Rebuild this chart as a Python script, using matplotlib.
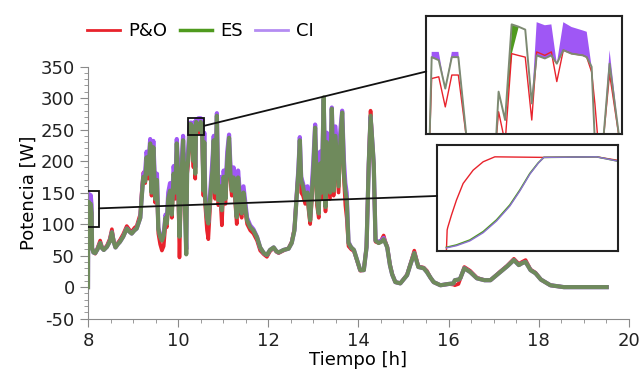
import matplotlib
matplotlib.use("Agg")
import matplotlib.pyplot as plt
import matplotlib.patches as patches
from matplotlib.lines import Line2D
from matplotlib.ticker import MultipleLocator

# ---- main series: time [h] and power [W] for the three MPPT methods ----
hours = [
    8.00, 8.005, 8.02, 8.04, 8.06, 8.08, 8.09, 8.12, 8.16, 8.21,
    8.27, 8.31, 8.35, 8.42, 8.48, 8.53, 8.57, 8.61, 8.66, 8.71,
    8.78, 8.86, 8.92, 8.97, 9.03, 9.08, 9.16, 9.20, 9.23, 9.27,
    9.30, 9.34, 9.38, 9.41, 9.45, 9.49, 9.53, 9.56, 9.60, 9.64,
    9.68, 9.72, 9.75, 9.78, 9.82, 9.86, 9.90, 9.94, 9.97, 10.00,
    10.03, 10.06, 10.09, 10.11, 10.14, 10.18, 10.20, 10.22, 10.25, 10.27,
    10.29, 10.31, 10.34, 10.36, 10.38, 10.40, 10.42, 10.45, 10.47, 10.50,
    10.53, 10.56, 10.58, 10.60, 10.64, 10.67, 10.72, 10.76, 10.79, 10.82,
    10.86, 10.89, 10.93, 10.97, 11.01, 11.05, 11.09, 11.13, 11.16, 11.19,
    11.23, 11.27, 11.30, 11.33, 11.37, 11.41, 11.45, 11.49, 11.53, 11.60,
    11.67, 11.75, 11.82, 11.90, 11.97, 12.04, 12.12, 12.18, 12.23, 12.34,
    12.45, 12.52, 12.58, 12.64, 12.67, 12.70, 12.73, 12.77, 12.82, 12.87,
    12.90, 12.93, 12.97, 13.00, 13.04, 13.08, 13.12, 13.15, 13.19, 13.23,
    13.27, 13.30, 13.33, 13.37, 13.41, 13.45, 13.49, 13.52, 13.56, 13.60,
    13.64, 13.68, 13.71, 13.74, 13.78, 13.84, 13.90, 13.97, 14.04, 14.12,
    14.18, 14.23, 14.27, 14.31, 14.34, 14.38, 14.45, 14.51, 14.56, 14.60,
    14.64, 14.70, 14.75, 14.82, 14.93, 15.08, 15.15, 15.24, 15.33, 15.45,
    15.52, 15.60, 15.67, 15.82, 16.00, 16.11, 16.14, 16.22, 16.26, 16.35,
    16.48, 16.63, 16.80, 16.93, 17.15, 17.30, 17.45, 17.56, 17.63, 17.71,
    17.82, 17.93, 18.05, 18.26, 18.56, 19.51,
]

es_w = [
    0, 128, 135, 126, 132, 118, 62, 55, 54, 60,
    70, 62, 59, 64, 72, 87, 72, 63, 68, 72,
    80, 93, 88, 85, 90, 93, 110, 150, 175, 168,
    206, 180, 228, 150, 222, 140, 170, 92, 80, 74,
    82, 110, 101, 140, 153, 115, 180, 150, 228, 170,
    80, 150, 200, 233, 153, 52, 190, 200, 240, 259,
    258, 235, 200, 255, 180, 262, 250, 258, 250, 262,
    258, 153, 230, 140, 110, 101, 150, 185, 233, 150,
    272, 138, 160, 122, 175, 140, 200, 237, 180, 153,
    174, 140, 111, 174, 140, 117, 150, 127, 106, 95,
    90, 79, 63, 54, 51, 59, 63, 57, 55, 59,
    61, 70, 90, 153, 185, 233, 170, 160, 140, 150,
    125, 106, 150, 185, 253, 140, 117, 196, 150, 301,
    127, 230, 196, 150, 283, 153, 240, 206, 160, 230,
    277, 180, 153, 140, 70, 63, 59, 43, 27, 27,
    63, 196, 272, 230, 196, 74, 70, 72, 76, 70,
    63, 35, 20, 8, 6, 19, 35, 54, 32, 30,
    24, 15, 8, 3, 5, 6, 11, 12, 14, 30,
    24, 14, 11, 11, 24, 33, 43, 35, 38, 40,
    27, 22, 12, 3, 0, 0,
]

po_w = [
    0, 125, 130, 124, 128, 115, 62, 57, 53, 62,
    74, 64, 60, 66, 76, 92, 74, 64, 70, 75,
    84, 97, 91, 88, 94, 97, 116, 160, 182, 165,
    200, 172, 220, 145, 215, 134, 160, 85, 68, 58,
    65, 100, 95, 132, 145, 110, 170, 140, 215, 160,
    47, 140, 188, 220, 145, 120, 180, 192, 232, 250,
    251, 225, 190, 245, 172, 254, 245, 254, 245, 258,
    255, 145, 220, 130, 90, 76, 140, 175, 225, 140,
    262, 130, 150, 98, 165, 132, 190, 228, 170, 145,
    165, 130, 100, 168, 120, 110, 142, 120, 100, 90,
    85, 74, 58, 52, 48, 57, 62, 56, 54, 58,
    62, 72, 93, 158, 180, 225, 150, 145, 132, 142,
    118, 100, 140, 175, 240, 130, 110, 185, 140, 285,
    120, 218, 185, 140, 270, 145, 228, 195, 150, 220,
    265, 170, 130, 110, 65, 60, 57, 42, 26, 27,
    65, 200, 280, 225, 190, 72, 70, 75, 82, 72,
    64, 36, 21, 8, 6, 20, 36, 58, 33, 31,
    26, 15, 8, 3, 5, 4, 3, 5, 13, 32,
    26, 15, 11, 11, 25, 34, 45, 37, 40, 43,
    28, 23, 12, 3, 0, 0,
]

ci_w = [
    0, 140, 148, 142, 146, 130, 62, 55, 54, 60,
    70, 62, 59, 64, 72, 87, 72, 63, 68, 72,
    80, 93, 88, 85, 90, 93, 110, 152, 180, 185,
    215, 195, 235, 175, 232, 160, 180, 95, 82, 76,
    84, 115, 108, 150, 165, 130, 192, 168, 235, 190,
    85, 165, 215, 240, 170, 60, 200, 215, 252, 261,
    261, 245, 210, 262, 190, 266, 262, 268, 262, 268,
    265, 165, 245, 150, 112, 103, 160, 200, 240, 165,
    276, 150, 175, 125, 185, 155, 215, 242, 195, 165,
    190, 150, 115, 185, 150, 125, 160, 135, 110, 98,
    92, 80, 63, 54, 51, 59, 63, 57, 55, 59,
    61, 70, 90, 155, 190, 238, 175, 165, 150, 160,
    135, 110, 165, 200, 258, 160, 130, 215, 175, 298,
    150, 245, 215, 175, 285, 180, 255, 225, 185, 250,
    280, 200, 165, 150, 72, 63, 59, 43, 27, 27,
    63, 196, 270, 230, 196, 74, 72, 74, 78, 70,
    63, 35, 20, 8, 6, 19, 35, 54, 32, 30,
    24, 15, 8, 3, 5, 6, 11, 12, 14, 30,
    24, 14, 11, 11, 24, 33, 43, 35, 38, 40,
    27, 22, 12, 3, 0, 0,
]

# ---- zoom 1 (around 10.2-10.6 h) ----
z1_hours = [10.226, 10.230, 10.243, 10.255, 10.267, 10.279, 10.295, 10.322, 10.348, 10.353,
            10.365, 10.377, 10.389, 10.402, 10.414, 10.423, 10.438, 10.450, 10.460, 10.472,
            10.487, 10.508, 10.515, 10.524, 10.530, 10.536, 10.545, 10.557, 10.576]
z1_es = [240, 259.6, 258.9, 252.4, 259.6, 259.6, 240, 225, 240, 251.7,
         245.2, 267.1, 266.6, 265.9, 249.0, 260.0, 259.3, 260.0, 258.1, 261.2,
         260.4, 260.0, 259.6, 257.4, 240, 230, 240, 258.1, 240]
z1_ci = [240, 260.8, 260.8, 252.4, 260.8, 260.8, 240, 225, 240, 251.7,
         245.2, 260.8, 266.6, 265.9, 249.0, 267.6, 266.9, 267.1, 258.1, 267.6,
         266.5, 265.7, 265.4, 257.4, 240, 230, 240, 261.2, 240]
z1_po = [240, 254.7, 255.1, 248.2, 255.5, 255.5, 240, 225, 240, 247.1,
         240, 260.4, 260.0, 259.6, 245.2, 260.8, 260.0, 260.8, 254.0, 261.2,
         260.4, 260.0, 259.6, 256.2, 249.0, 240, 240, 255.8, 240]

# ---- zoom 2 (start-up transient near 8 h) ----
z2_po_hours = [7.9844, 7.9855, 7.9865, 7.9922, 7.9999, 8.0102, 8.0257, 8.0412, 8.0592, 8.1340, 8.2165, 8.2474]
z2_po = [95.5, 106.5, 108.0, 114.7, 122.9, 132.0, 139.3, 143.9, 146.6, 146.3, 146.6, 144.8]
z2_hours = [7.9844, 7.9999, 8.0205, 8.0412, 8.0618, 8.0824, 8.0979, 8.1134, 8.1263, 8.1350, 8.2165, 8.2474]
z2_es = [97.0, 98.3, 101.0, 105.6, 112.0, 120.2, 128.4, 137.5, 143.3, 146.3, 146.6, 144.4]
z2_ci = [96.7, 97.9, 100.5, 105.0, 111.4, 119.6, 127.9, 137.1, 143.1, 146.3, 146.6, 144.4]

RED = "#e8232c"
GREEN = "#4f9a1e"
VIOLET = "#b48cf2"
VIOLET_FILL = "#9f57f5"
MIX = "#6f8a5c"

plt.rcParams["font.family"] = "DejaVu Sans"
plt.rcParams["axes.unicode_minus"] = False
fig = plt.figure(figsize=(6.4, 3.78), dpi=100)
ax = fig.add_axes([0.1375, 0.157, 0.845, 0.667])

ax.plot(hours, po_w, color=RED, lw=2.6, zorder=1)
ax.plot(hours, ci_w, color=VIOLET_FILL, lw=3.0, zorder=2)
ax.plot(hours, es_w, color=MIX, lw=3.0, zorder=3)

ax.set_xlim(8, 20)
ax.set_ylim(-50, 350)
ax.xaxis.set_major_locator(MultipleLocator(2))
ax.xaxis.set_minor_locator(MultipleLocator(0.5))
ax.yaxis.set_major_locator(MultipleLocator(50))
ax.yaxis.set_minor_locator(MultipleLocator(10))
for s in ["top", "right"]:
    ax.spines[s].set_visible(False)
for s in ["left", "bottom"]:
    ax.spines[s].set_color("#8a8a8a")
ax.tick_params(which="major", length=6, color="#8a8a8a", labelsize=13, labelcolor="#222222")
ax.tick_params(which="minor", length=3, color="#8a8a8a")
ax.set_xlabel("Tiempo [h]", fontsize=13, labelpad=1)
ax.set_ylabel("Potencia [W]", fontsize=13, labelpad=2)

# marked regions
r1 = patches.Rectangle((10.22, 242), 0.36, 27, fill=False, ec="#111111", lw=1.3, zorder=5)
r2 = patches.Rectangle((7.97, 95), 0.28, 58, fill=False, ec="#111111", lw=1.3, zorder=5)
ax.add_patch(r1)
ax.add_patch(r2)

# inset 1
ins1 = fig.add_axes([0.666, 0.6455, 0.306, 0.312])
ins1.fill_between(z1_hours, z1_es, z1_ci, where=[c > e for c, e in zip(z1_ci, z1_es)],
                  interpolate=True, color=VIOLET_FILL, lw=0)
ins1.fill_between(z1_hours, z1_ci, z1_es, where=[e > c for c, e in zip(z1_ci, z1_es)],
                  interpolate=True, color=GREEN, lw=0)
ins1.plot(z1_hours, z1_po, color=RED, lw=1.0)
ins1.plot(z1_hours, z1_es, color="#7d8a72", lw=1.4)
ins1.set_xlim(10.22, 10.58)
ins1.set_ylim(242, 269)

# inset 2
ins2 = fig.add_axes([0.683, 0.336, 0.283, 0.280])
ins2.plot(z2_po_hours, z2_po, color=RED, lw=1.0)
ins2.plot(z2_hours, z2_es, color=GREEN, lw=1.2)
ins2.plot(z2_hours, z2_ci, color="#8a70d0", lw=1.0)
ins2.set_xlim(7.97, 8.25)
ins2.set_ylim(95, 153)

for a in (ins1, ins2):
    a.set_xticks([])
    a.set_yticks([])
    for s in a.spines.values():
        s.set_color("#222222")
        s.set_linewidth(1.5)

# connector lines
c1 = patches.ConnectionPatch(xyA=(10.58, 256), coordsA=ax.transData,
                             xyB=(0, 0.53), coordsB=ins1.transAxes, color="#111111", lw=1.3)
c2 = patches.ConnectionPatch(xyA=(8.25, 125), coordsA=ax.transData,
                             xyB=(0, 0.52), coordsB=ins2.transAxes, color="#111111", lw=1.3)
fig.add_artist(c1)
fig.add_artist(c2)

handles = [Line2D([], [], color=RED, lw=2), Line2D([], [], color=GREEN, lw=2.5),
           Line2D([], [], color=VIOLET, lw=2)]
fig.legend(handles, ["P&O", "ES", "CI"], loc="center left", bbox_to_anchor=(0.111, 0.918),
           ncol=3, frameon=False, fontsize=13, handlelength=1.8, handletextpad=0.45,
           columnspacing=0.7)

fig.savefig("out.png", dpi=100)
